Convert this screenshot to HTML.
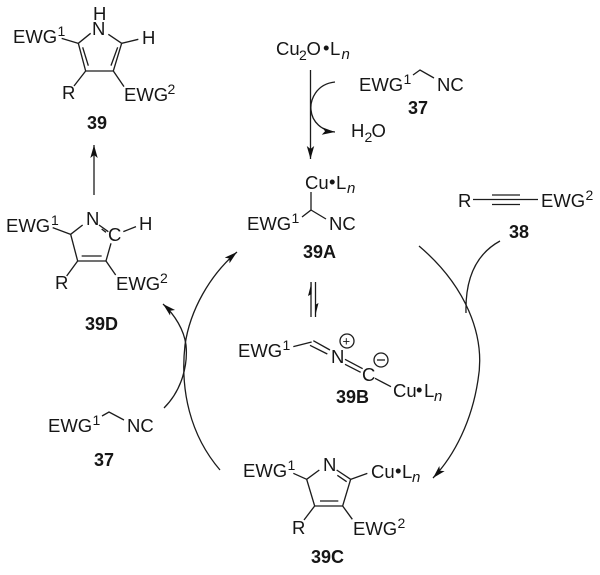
<!DOCTYPE html>
<html>
<head>
<meta charset="utf-8">
<style>
html,body{margin:0;padding:0;background:#fff;}
svg{display:block;}
text{font-family:"Liberation Sans",sans-serif;font-size:18.5px;fill:#161616;}
.b{font-weight:bold;font-size:18px;}
.s{font-size:14px;}
.n{font-size:15px;font-style:italic;}
line,path,polyline,circle{stroke:#1c1c1c;fill:none;stroke-width:1.3;}
.z line{stroke-width:4;}
path.h{fill:#111;stroke:none;}
</style>
</head>
<body>
<svg width="600" height="575" viewBox="0 0 600 575" xmlns="http://www.w3.org/2000/svg">
<defs>
<marker id="a" markerUnits="userSpaceOnUse" markerWidth="16" markerHeight="12" refX="13" refY="5" orient="auto"><path class="h" d="M0,1.300 L13,5 L0,8.700 L3,5 Z"/></marker>
</defs>

<!-- 39 -->
<text x="13" y="43">EWG</text><text class="s" x="57.500" y="36">1</text>
<text x="93" y="20">H</text><text x="92" y="35">N</text>
<text x="142" y="44">H</text>
<text x="62" y="99">R</text>
<text x="124" y="101">EWG</text><text class="s" x="167.500" y="94">2</text>
<text class="b" x="87" y="129">39</text>
<g class="z" transform="scale(.3333)">
<line x1="272" y1="100" x2="235" y2="130"/><line x1="235" y1="130" x2="257" y2="213"/><line x1="257" y1="213" x2="340" y2="213"/><line x1="340" y1="213" x2="365" y2="130"/><line x1="365" y1="130" x2="325" y2="103"/>
<line x1="248" y1="142" x2="265" y2="197"/><line x1="353" y1="142" x2="333" y2="197"/>
<line x1="235" y1="130" x2="185" y2="115"/><line x1="365" y1="130" x2="415" y2="118"/><line x1="257" y1="213" x2="222" y2="258"/><line x1="340" y1="213" x2="372" y2="260"/>
</g>
<path d="M94,195 L94,145" marker-end="url(#a)"/>

<!-- 39D -->
<text x="6" y="232">EWG</text><text class="s" x="51" y="225">1</text>
<text x="86" y="225">N</text><text x="108" y="241">C</text><text x="139" y="230">H</text>
<text x="55" y="289">R</text>
<text x="116" y="290">EWG</text><text class="s" x="160" y="283">2</text>
<text class="b" x="85" y="330">39D</text>
<g class="z" transform="translate(0,190) scale(.3333)">
<line x1="158" y1="113" x2="212" y2="133"/><line x1="212" y1="133" x2="248" y2="105"/><line x1="212" y1="133" x2="233" y2="213"/><line x1="233" y1="213" x2="318" y2="213"/><line x1="318" y1="213" x2="333" y2="160"/>
<line x1="297" y1="105" x2="325" y2="125"/><line x1="305" y1="117" x2="318" y2="127"/>
<line x1="370" y1="125" x2="408" y2="110"/><line x1="233" y1="213" x2="200" y2="258"/><line x1="318" y1="213" x2="347" y2="255"/>
<line x1="245" y1="198" x2="305" y2="198"/>
</g>

<!-- Cu2O -->
<text x="276" y="55">Cu</text><text class="s" x="299" y="60">2</text><text x="306.500" y="55">O</text><text x="323" y="54">•</text><text x="330" y="55">L</text><text class="n" x="341.500" y="59">n</text>
<path d="M310.500,70 L310.500,159" marker-end="url(#a)"/>
<path d="M335,82 C316,84 310,100 311,110 C312,122 322,131 335,132" marker-end="url(#a)"/>
<text x="351" y="137">H</text><text class="s" x="364.500" y="142">2</text><text x="371.500" y="137">O</text>

<!-- 37 top -->
<text x="359" y="91">EWG</text><text class="s" x="403.500" y="84">1</text>
<text x="437" y="91">NC</text>
<polyline points="413,75 420,70 434,78"/>
<text class="b" x="408" y="114">37</text>

<!-- 39A -->
<text x="305" y="189">Cu</text><text x="329" y="188">•</text><text x="336" y="189">L</text><text class="n" x="347" y="193">n</text>
<polyline points="311,192 311,210 302,217"/><line x1="311" y1="210" x2="326" y2="219"/>
<text x="247" y="230">EWG</text><text class="s" x="291.500" y="223">1</text>
<text x="329" y="230">NC</text>
<text class="b" x="303" y="258">39A</text>

<!-- 38 -->
<text x="458" y="207">R</text>
<line x1="473" y1="199.500" x2="538" y2="199.500"/>
<line x1="492" y1="195" x2="520" y2="195"/><line x1="492" y1="204.500" x2="520" y2="204.500"/>
<text x="541" y="207">EWG</text><text class="s" x="585.500" y="200">2</text>
<text class="b" x="509" y="238">38</text>
<path d="M500,241 C478,253 465,275 466,313"/>

<!-- Large cycle -->
<path d="M419,246 C465,285 486,335 478,380 C472,420 455,455 433,478" marker-end="url(#a)"/>
<path d="M220,470 C190,435 180,390 185,345 C190,310 210,275 237,252" marker-end="url(#a)"/>
<path d="M164,408 C182,390 188,365 186,345 C184,330 175,315 163,304" marker-end="url(#a)"/>

<!-- equilibrium -->
<line x1="311" y1="317" x2="311" y2="282"/>
<path class="h" d="M311.600,282 L308,296 L311.600,294 Z"/>
<line x1="315.500" y1="282" x2="315.500" y2="317"/>
<path class="h" d="M315,317 L318.500,303 L315,305 Z"/>

<!-- 39B -->
<text x="238" y="357">EWG</text><text class="s" x="282.500" y="350">1</text>
<g class="z" transform="translate(230,270) scale(.3333)">
<line x1="190" y1="230" x2="245" y2="216"/><line x1="250" y1="212" x2="300" y2="240"/><line x1="240" y1="226" x2="292" y2="252"/>
<line x1="345" y1="268" x2="398" y2="296"/><line x1="345" y1="283" x2="392" y2="307"/>
<line x1="435" y1="325" x2="483" y2="350"/>
</g>
<text x="331" y="363">N</text>
<text x="362" y="381">C</text>
<circle cx="347" cy="341" r="7" stroke="#555"/><text x="342.500" y="345.500" style="font-size:13px">+</text>
<circle cx="381" cy="360" r="7" stroke="#555"/><line x1="377" y1="360" x2="385" y2="360"/>
<text x="393" y="397">Cu</text><text x="416" y="396">•</text><text x="424" y="397">L</text><text class="n" x="434" y="401">n</text>
<text class="b" x="336" y="403">39B</text>

<!-- 39C -->
<text x="243" y="477">EWG</text><text class="s" x="287.500" y="470">1</text>
<text x="323" y="471">N</text>
<text x="371" y="478">Cu</text><text x="395" y="477">•</text><text x="402" y="478">L</text><text class="n" x="412" y="482">n</text>
<text x="292" y="534">R</text>
<text x="353" y="535">EWG</text><text class="s" x="397.500" y="528">2</text>
<text class="b" x="311" y="563">39C</text>
<g class="z" transform="translate(230,430) scale(.3333)">
<line x1="190" y1="130" x2="230" y2="148"/><line x1="230" y1="148" x2="268" y2="120"/><line x1="230" y1="148" x2="254" y2="228"/><line x1="254" y1="228" x2="338" y2="228"/><line x1="338" y1="228" x2="362" y2="148"/>
<line x1="320" y1="120" x2="362" y2="148"/><line x1="322" y1="136" x2="350" y2="155"/>
<line x1="362" y1="148" x2="412" y2="130"/><line x1="254" y1="228" x2="222" y2="270"/><line x1="338" y1="228" x2="367" y2="268"/>
<line x1="270" y1="213" x2="325" y2="213"/>
</g>

<!-- 37 lower -->
<text x="48" y="432">EWG</text><text class="s" x="92.500" y="425">1</text>
<polyline points="102,416 109,412 124,420"/>
<text x="127" y="432">NC</text>
<text class="b" x="94" y="466">37</text>
</svg>
</body>
</html>
